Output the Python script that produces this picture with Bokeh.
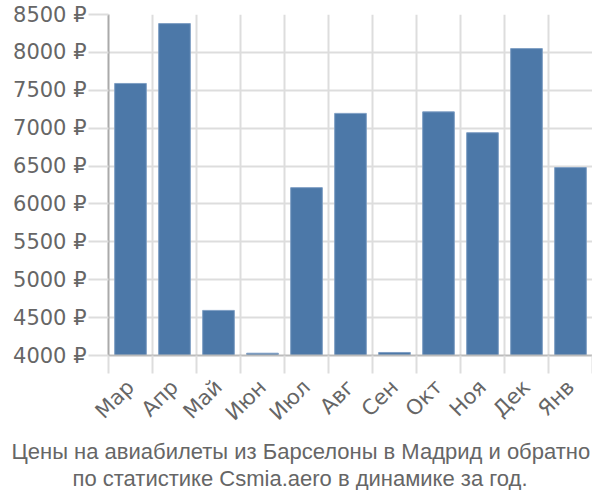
import math
from bokeh.plotting import figure
from bokeh.models import FixedTicker, Range1d, Title, ColumnDataSource
from bokeh.embed import file_html
from bokeh.resources import INLINE

months = ["Мар", "Апр", "Май", "Июн", "Июл", "Авг", "Сен", "Окт", "Ноя", "Дек", "Янв"]
prices = [7590, 8380, 4595, 4030, 6215, 7195, 4040, 7215, 6940, 8050, 6480]
y_ticks = [4000, 4500, 5000, 5500, 6000, 6500, 7000, 7500, 8000, 8500]
title_lines = ["Цены на авиабилеты из Барселоны в Мадрид и обратно",
               "по статистике Csmia.aero в динамике за год."]

n = len(months)
centers = [i + 0.5 for i in range(n)]
bounds = [float(i) for i in range(n + 1)]

src = ColumnDataSource(dict(x=centers, top=prices))

W, H = 592, 490
ML, MR, MT, MB = 108, 0, 14, 131

p = figure(width=W, height=H, output_backend="svg", toolbar_location=None,
           x_range=Range1d(0, n), y_range=Range1d(4000, 8500),
           min_border_left=ML, min_border_right=MR, min_border_top=MT, min_border_bottom=MB)
p.outline_line_color = None

p.vbar(x="x", top="top", bottom=4000, width=0.72, source=src,
       fill_color="#4c78a8", line_color="#7f9fc4", line_width=1)

lab_font = "DejaVu Sans"
title_font = "Liberation Sans"
txt = "#666666"

# x axis
p.xaxis.ticker = FixedTicker(ticks=centers, minor_ticks=bounds)
p.xaxis.major_label_overrides = {c: m for c, m in zip(centers, months)}
p.xaxis.major_label_orientation = math.pi / 4
p.xaxis.major_tick_line_color = None
p.xaxis.minor_tick_in = 0
p.xaxis.minor_tick_out = 18
p.xaxis.minor_tick_line_color = "#dddddd"
p.xaxis.minor_tick_line_width = 2
p.xaxis.axis_line_color = "#bbbbbb"
p.xaxis.axis_line_width = 2
p.xaxis.major_label_text_font = lab_font
p.xaxis.major_label_text_font_size = "21px"
p.xaxis.major_label_text_color = txt
p.xaxis.major_label_standoff = 10

p.xgrid.grid_line_color = None
p.xgrid.minor_grid_line_color = "#dddddd"
p.xgrid.minor_grid_line_width = 2

# y axis
p.yaxis.ticker = FixedTicker(ticks=y_ticks)
p.yaxis.major_label_overrides = {t: f"{t} ₽" for t in y_ticks}
p.yaxis.minor_tick_line_color = None
p.yaxis.major_tick_in = 0
p.yaxis.major_tick_out = 20
p.yaxis.major_tick_line_color = "#dddddd"
p.yaxis.major_tick_line_width = 2
p.yaxis.axis_line_color = "#aaaaaa"
p.yaxis.axis_line_width = 2
p.yaxis.major_label_text_font = lab_font
p.yaxis.major_label_text_font_size = "21px"
p.yaxis.major_label_text_color = txt
p.yaxis.major_label_standoff = 2

p.ygrid.grid_line_color = "#dddddd"
p.ygrid.grid_line_width = 2

# titles below, shifted left so they are centred on the whole canvas
for line, off in zip(title_lines, [-97, -36]):
    p.add_layout(Title(text=line, align="left", offset=off, text_font=title_font,
                       text_font_size="22px", text_font_style="normal",
                       text_color=txt, standoff=0), "below")

open("out.html", "w").write(file_html(p, INLINE))
